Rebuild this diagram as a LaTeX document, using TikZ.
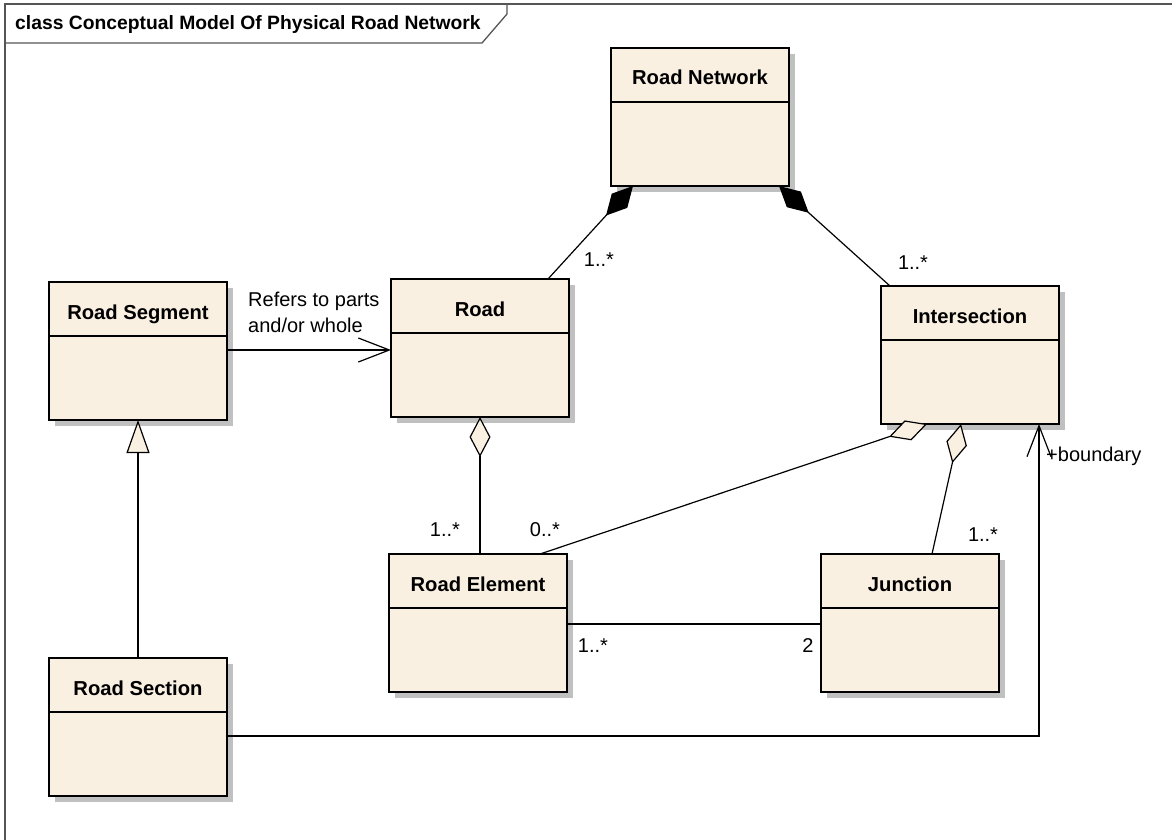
\documentclass[tikz,border=0pt]{standalone}
\usepackage{fontspec}
\setmainfont{Liberation Sans}
\usetikzlibrary{arrows.meta,calc}
\definecolor{classfill}{HTML}{FAF0E2}
\definecolor{shadowc}{HTML}{C0C0C0}
\definecolor{framec}{HTML}{555555}
\tikzset{
 cls/.style={draw=black, line width=1.4pt, fill=classfill, minimum width=178pt, minimum height=138pt, inner sep=0pt, outer sep=0pt, anchor=north west},
 clsname/.style={font=\bfseries\fontsize{20.2}{23}\selectfont, anchor=base, inner sep=0pt},
 lbl/.style={font=\fontsize{20}{23}\selectfont, inner sep=0pt},
 conn/.style={line width=1.2pt, draw=black},
 comp/.style={conn, {Diamond[length=40pt,width=21pt,fill=black]}-},
 agg/.style={conn, {Diamond[length=40pt,width=21pt,fill=classfill]}-},
 gen/.style={conn, {Triangle[length=33pt,width=23pt,fill=classfill]}-},
 nav/.style={conn, -{Straight Barb[length=31pt,width=24pt]}},
}
\newcommand\umlclass[4]{%
 \fill[shadowc] ({#2+6},{#3+6}) rectangle ++(178,138);
 \node[cls] (#1) at (#2,#3) {};
 \draw[line width=1.4pt] ([yshift=-54pt]#1.north west) -- ([yshift=-54pt]#1.north east);
 \node[clsname] (#1-name) at ([yshift=-37pt]#1.north) {#4};
}
\begin{document}
\begin{tikzpicture}[x=1pt,y=-1pt]
\useasboundingbox (0,0) rectangle (1172,840);
\fill[white] (0,0) rectangle (1172,840);
% frame
\draw[framec, line width=1.5pt] (5,840) -- (5,4) -- (1172,4);
\draw[framec, line width=1.3pt] (5,43) -- (482,43) -- (507,14) -- (507,4);
\node[font=\bfseries\fontsize{19.3}{22}\selectfont, anchor=base west, inner sep=0pt] (title) at (15,30) {class Conceptual Model Of Physical Road Network};
% classes
\umlclass{rn}{611}{48}{Road Network}
\umlclass{road}{391}{279}{Road}
\umlclass{rseg}{49}{282}{Road Segment}
\umlclass{is}{881}{286}{Intersection}
\umlclass{rel}{389}{554}{Road Element}
\umlclass{jn}{821}{554}{Junction}
\umlclass{rsec}{49}{658}{Road Section}
% connectors
\coordinate (rnL) at ([xshift=22pt]rn.south west);
\coordinate (roadT) at ([xshift=157pt]road.north west);
\draw[comp] (rnL) -- (roadT);
\coordinate (rnR) at ([xshift=-10pt]rn.south east);
\coordinate (isT) at ([xshift=9pt]is.north west);
\draw[comp] (rnR) -- (isT);
\coordinate (rsegA) at ([yshift=-68pt]rseg.north east);
\draw[nav] (rsegA) -- (rsegA -| road.west);
\draw[gen] (rseg.south) -- (rsec.north);
\draw[agg] (road.south) -- (road.south |- rel.north);
\coordinate (isA) at ([xshift=46pt]is.south west);
\coordinate (relT) at ([xshift=151pt]rel.north west);
\draw[agg] (isA) -- (relT);
\coordinate (isB) at ([xshift=80pt]is.south west);
\coordinate (jnT) at ([xshift=111pt]jn.north west);
\draw[agg] (isB) -- (jnT);
\coordinate (relR) at ([yshift=-70pt]rel.north east);
\draw[conn] (relR) -- (relR -| jn.west);
\coordinate (rsecR) at ([yshift=-78pt]rsec.north east);
\coordinate (isC) at ([xshift=-20pt]is.south east);
\draw[nav] (rsecR) -| (isC);
% labels
\node[lbl, anchor=base west] (l1) at (248,306) {Refers to parts};
\node[lbl, anchor=base west] (l2) at (248,332) {and/or whole};
\node[lbl] (m1) at (599,260) {1..*};
\node[lbl] (m2) at (913,263) {1..*};
\node[lbl] (m3) at (445,530) {1..*};
\node[lbl] (m4) at (545,530) {0..*};
\node[lbl] (m5) at (983,535) {1..*};
\node[lbl] (m6) at (593,646) {1..*};
\node[lbl] (m7) at (808,646) {2};
\node[lbl, anchor=base west] (m8) at (1046,461) {+boundary};
\end{tikzpicture}
\end{document}
